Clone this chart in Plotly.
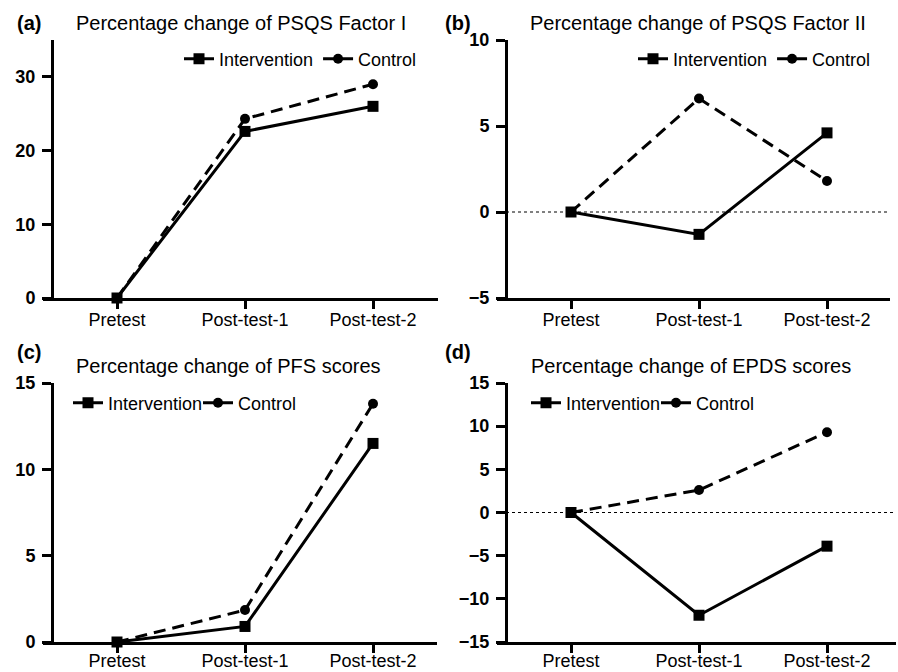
import plotly.graph_objects as go

# ---------------- data ----------------
categories = ["Pretest", "Post-test-1", "Post-test-2"]

psqs1_intervention = [0, 22.6, 26.0]
psqs1_control = [0, 24.3, 29.0]

psqs2_intervention = [0, -1.3, 4.6]
psqs2_control = [0, 6.6, 1.8]

pfs_intervention = [0, 0.9, 11.5]
pfs_control = [0, 1.85, 13.8]

epds_intervention = [0, -11.9, -3.9]
epds_control = [0, 2.6, 9.3]

titles = [
    "Percentage change of PSQS Factor I",
    "Percentage change of PSQS Factor II",
    "Percentage change of PFS scores",
    "Percentage change of EPDS scores",
]
panel_labels = ["(a)", "(b)", "(c)", "(d)"]
y_ranges = [[0, 35], [-5, 10], [0, 15], [-15, 15]]
y_dticks = [10, 5, 5, 5]
zero_line = [False, True, False, True]

series = [
    (psqs1_intervention, psqs1_control),
    (psqs2_intervention, psqs2_control),
    (pfs_intervention, pfs_control),
    (epds_intervention, epds_control),
]

# ---------------- layout geometry (pixels) ----------------
W, H = 898, 672
FONT = "Liberation Sans, Arial, Helvetica, sans-serif"

geom = [
    dict(yx=52, xend=438, top=40, bottom=298, title=(241, 23), lab=(15, 23), leg=(184, 59), xstand=-5),
    dict(yx=506, xend=890, top=40, bottom=298, title=(698, 23), lab=(443, 23), leg=(638, 59), xstand=-5),
    dict(yx=52, xend=437, top=383, bottom=642, title=(228, 366), lab=(15, 352), leg=(73, 403), xstand=-8),
    dict(yx=506, xend=896, top=383, bottom=642, title=(691, 366), lab=(443, 352), leg=(531, 403), xstand=-8),
]
OVER = 9      # x-axis overhang left of y-axis
STEP = 128    # px per category
FIRST = 65    # px from y-axis to first category

fig = go.Figure()
annotations = []
shapes = []

for i, (g, (inter, ctrl)) in enumerate(zip(geom, series)):
    n = i + 1
    xa = "x" if n == 1 else f"x{n}"
    ya = "y" if n == 1 else f"y{n}"
    leg = "legend" if n == 1 else f"legend{n}"

    fig.add_trace(go.Scatter(
        x=categories, y=ctrl, name="Control", mode="lines+markers",
        line=dict(color="black", width=3, dash="12px,7px"),
        marker=dict(symbol="circle", size=10, color="black"),
        xaxis=xa, yaxis=ya, legend=leg, legendrank=2, cliponaxis=False,
    ))
    fig.add_trace(go.Scatter(
        x=categories, y=inter, name="Intervention", mode="lines+markers",
        line=dict(color="black", width=3),
        marker=dict(symbol="square", size=11, color="black"),
        xaxis=xa, yaxis=ya, legend=leg, legendrank=1, cliponaxis=False,
    ))

    x0 = g["yx"] - OVER
    first = g["yx"] + FIRST
    xr = [(x0 - first) / STEP, (g["xend"] - first) / STEP]
    xkey = "xaxis" if n == 1 else f"xaxis{n}"
    ykey = "yaxis" if n == 1 else f"yaxis{n}"

    fig.update_layout(**{
        xkey: dict(
            domain=[x0 / W, g["xend"] / W], range=xr, anchor=ya,
            type="category", showgrid=False, zeroline=False,
            showline=True, linecolor="black", linewidth=3,
            ticks="outside", ticklen=8, tickwidth=3, tickcolor="black",
            ticklabelstandoff=g["xstand"],
            tickfont=dict(family=FONT, size=18, color="black"),
            fixedrange=True,
        ),
        ykey: dict(
            domain=[1 - g["bottom"] / H, 1 - g["top"] / H], range=y_ranges[i],
            anchor="free", position=g["yx"] / W,
            dtick=y_dticks[i], tick0=0, showgrid=False, zeroline=False,
            showline=True, linecolor="black", linewidth=3,
            ticks="outside", ticklen=9, tickwidth=3, tickcolor="black",
            ticklabelstandoff=3,
            tickfont=dict(family=FONT, size=18, color="black", weight="bold"),
            fixedrange=True,
        ),
        leg: dict(
            orientation="h", x=(g["leg"][0] - 5) / W, y=1 - g["leg"][1] / H,
            xanchor="left", yanchor="middle",
            font=dict(family=FONT, size=18, color="black"),
            bgcolor="rgba(0,0,0,0)", borderwidth=0, itemwidth=30,
            **({"entrywidth": 85} if n >= 3 else {}),
        ),
    })

    if zero_line[i]:
        shapes.append(dict(
            type="line", xref="paper", yref=ya,
            x0=g["yx"] / W, x1=g["xend"] / W, y0=0, y1=0,
            line=dict(color="black", width=1, dash="dot"), layer="below",
        ))

    annotations.append(dict(
        text=titles[i], xref="paper", yref="paper",
        x=g["title"][0] / W, y=1 - g["title"][1] / H,
        xanchor="center", yanchor="middle", showarrow=False,
        font=dict(family=FONT, size=20, color="black"),
    ))
    annotations.append(dict(
        text="<b>" + panel_labels[i] + "</b>", xref="paper", yref="paper",
        x=g["lab"][0] / W, y=1 - g["lab"][1] / H,
        xanchor="left", yanchor="middle", showarrow=False,
        font=dict(family=FONT, size=20, color="black"),
    ))

fig.update_layout(
    width=W, height=H,
    margin=dict(l=0, r=0, t=0, b=0, autoexpand=False),
    paper_bgcolor="white", plot_bgcolor="white",
    annotations=annotations, shapes=shapes,
    showlegend=True,
    font=dict(family=FONT, color="black"),
)

fig.write_html(
    "out.html",
    config={"displayModeBar": False},
    post_script="document.body.style.margin='0px';document.body.style.overflow='hidden';",
)
